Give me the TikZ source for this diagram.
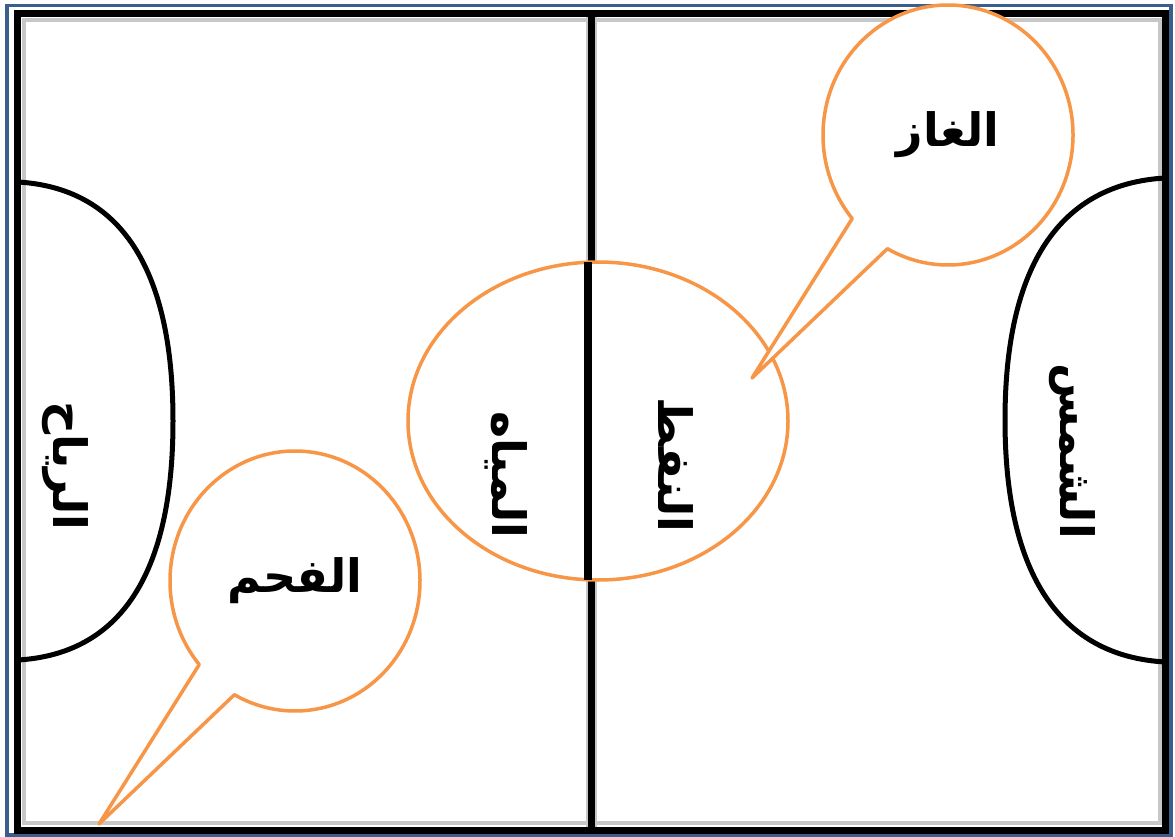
\documentclass[tikz,border=0pt]{standalone}
\usepackage{fontspec}
\usepackage{xcolor}
\usepackage{tikz}
\usetikzlibrary{calc}
\newfontfamily\arabicfont[Script=Arabic]{DejaVu Sans}
\TeXXeTstate=1
\definecolor{frameblue}{RGB}{58,95,140}
\definecolor{bubbleorange}{RGB}{247,150,70}

\begin{document}
\begin{tikzpicture}[
      x=1pt, y=-1pt,
      word/.style={font=\arabicfont\bfseries\fontsize{46}{46}\selectfont, inner sep=0pt},
      sideword/.style={word, rotate=-90},
      fieldline/.style={draw=black, line width=5pt},
      halo/.style={draw=black!22, line width=4pt},
      bubble/.style={draw=bubbleorange, fill=white, line width=3.5pt, line join=round},
      callout/.pic={\draw[bubble] (140:125 and 130) arc[start angle=140, end angle=479, x radius=125, y radius=130] -- (-196,243) -- cycle;}
]
      \useasboundingbox (0,0) rectangle (1175,837);
      \fill[white] (0,0) rectangle (1175,837);

      \draw[frameblue, line width=3.5pt] (7,5.5) rectangle (1171,835);
      \draw[halo] (24,20) rectangle (1160,823);
      \draw[black, line width=7pt] (17,14) rectangle (1165,830);

      \draw[fieldline] (18,182) .. controls (119,188) and (173,266) .. (173,421)
            .. controls (173,576) and (119,654) .. (18,660);
      \draw[fieldline] (1165,178) .. controls (1061,184) and (1005,264) .. (1005,420)
            .. controls (1005,576) and (1061,656) .. (1165,662);

      \draw[halo, line width=11pt] (591,17) -- (591,827);
      \draw[black, line width=7pt] (591,14) -- (591,830);

      \draw[bubble] (598,421) ellipse[x radius=190, y radius=159];
      \draw[black, line width=8pt] (588,262) -- (588,580);

      \pic at (948,135) {callout};
      \pic at (295,581) {callout};

      \node[word] (gas) at (948,135) {\beginR الغاز\endR};
      \node[word] (coal) at (295,581) {\beginR الفحم\endR};
      \node[sideword] (wind) at (65,466) {\beginR الرياح\endR};
      \node[sideword] (water) at (506,475) {\beginR المياه\endR};
      \node[sideword] (oil) at (676,465) {\beginR النفط\endR};
      \node[sideword] (sun) at (1072,451) {\beginR الشمس\endR};
\end{tikzpicture}
\end{document}
